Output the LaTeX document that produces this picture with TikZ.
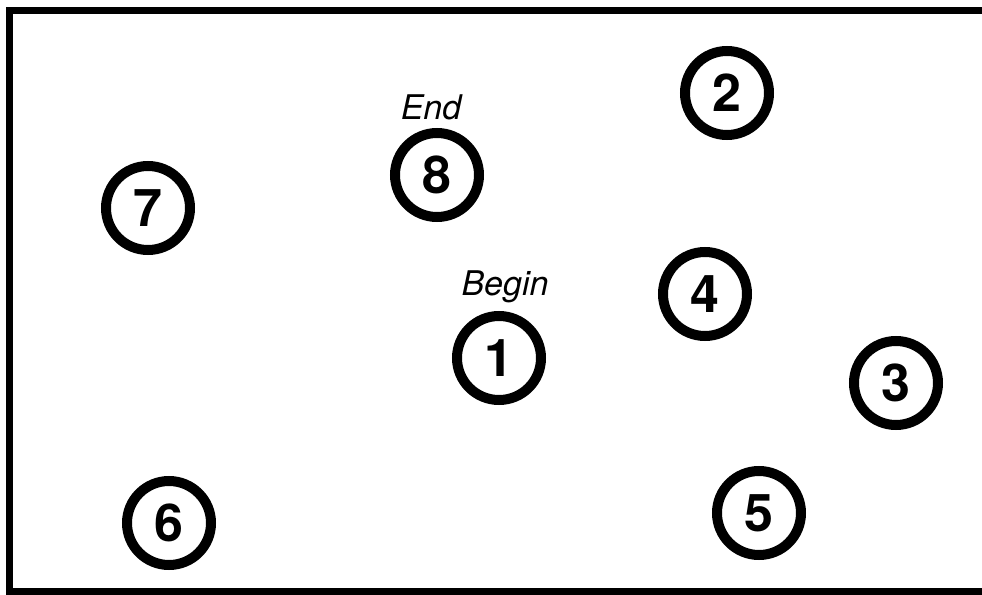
\documentclass[tikz,border=0pt]{standalone}
\usepackage{fontspec}
\setmainfont{TeX Gyre Heros}
\usetikzlibrary{positioning}
\tikzset{
  every picture/.append style={x=0.5pt, y=-0.5pt},
  frame/.style={line width=3.5pt, line join=miter},
  stop/.style={circle, draw=black, line width=5pt, minimum size=42pt,
               inner sep=0pt, font=\fontsize{26}{26}\selectfont\bfseries},
  tag/.style={font=\fontsize{17}{17}\selectfont\itshape, inner sep=1pt},
}
\begin{document}
\begin{tikzpicture}[node distance=3pt]
\useasboundingbox (0,0) rectangle (982,595);

% open frame: top, left and bottom edges
\coordinate (fTR) at (982,10); \coordinate (fTL) at (9,10);
\coordinate (fBL) at (9,591);  \coordinate (fBR) at (982,591);
\draw[frame] (fTR) -- (fTL) -- (fBL) -- (fBR);

% ======================= numbered stops =======================
\node[stop] (n1) at (499,358) {1};
\node[stop] (n2) at (727,93)  {2};
\node[stop] (n3) at (896,383) {3};
\node[stop] (n4) at (705,294) {4};
\node[stop] (n5) at (759,513) {5};
\node[stop] (n6) at (169,523) {6};
\node[stop] (n7) at (148,208) {7};
\node[stop] (n8) at (437,175) {8};

% ======================= start / finish tags =======================
\node[tag, above=of n1, xshift=3pt] (tBegin) {Begin};
\node[tag, above=of n8, xshift=-3pt] (tEnd) {End};

\end{tikzpicture}
\end{document}
